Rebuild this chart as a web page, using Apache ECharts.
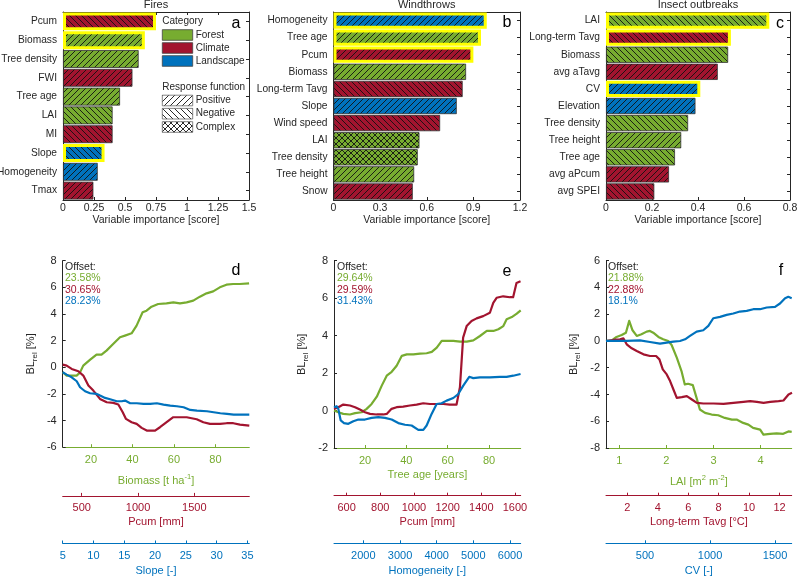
<!DOCTYPE html>
<html><head><meta charset="utf-8">
<script src="https://cdn.jsdelivr.net/npm/echarts@6/dist/echarts.min.js"></script>
<style>html,body{margin:0;padding:0;background:#fff}#c{width:798px;height:577px}</style>
</head><body><div id="c"></div><script>
// ---------- DATA ----------
const firesVars = ['Pcum','Biomass','Tree density','FWI','Tree age','LAI','MI','Slope','Homogeneity','Tmax'];
const firesImp  = [0.75,0.66,0.61,0.56,0.46,0.40,0.40,0.335,0.28,0.245];
const firesCat  = ['Climate','Forest','Forest','Climate','Forest','Forest','Climate','Landscape','Landscape','Climate'];
const firesResp = ['Negative','Positive','Positive','Positive','Positive','Negative','Negative','Negative','Positive','Positive'];
const firesTop  = [1,1,0,0,0,0,0,1,0,0];

const windVars = ['Homogeneity','Tree age','Pcum','Biomass','Long-term Tavg','Slope','Wind speed','LAI','Tree density','Tree height','Snow'];
const windImp  = [0.986,0.949,0.90,0.853,0.831,0.793,0.686,0.553,0.542,0.519,0.51];
const windCat  = ['Landscape','Forest','Climate','Forest','Climate','Landscape','Climate','Forest','Forest','Forest','Climate'];
const windResp = ['Positive','Positive','Positive','Positive','Negative','Positive','Negative','Complex','Complex','Positive','Positive'];
const windTop  = [1,1,1,0,0,0,0,0,0,0,0];

const insVars = ['LAI','Long-term Tavg','Biomass','avg aTavg','CV','Elevation','Tree density','Tree height','Tree age','avg aPcum','avg SPEI'];
const insImp  = [0.71,0.543,0.531,0.486,0.41,0.389,0.357,0.327,0.30,0.274,0.21];
const insCat  = ['Forest','Climate','Forest','Climate','Landscape','Landscape','Forest','Forest','Forest','Climate','Climate'];
const insResp = ['Negative','Negative','Negative','Positive','Positive','Positive','Negative','Positive','Negative','Positive','Negative'];
const insTop  = [1,1,0,0,1,0,0,0,0,0,0];

const panelTitles = ['Fires','Windthrows','Insect outbreaks'];
const impMax = [1.5,1.2,0.8];
const impStep = [0.25,0.3,0.2];

// panel d
const dBiomassX = [6.4,8.3,13.1,14.7,16.3,19.5,22.7,25.1,27.5,30.7,34.0,36.4,39.6,42.0,44.9,46.8,49.2,52.4,56.4,59.7,62.9,66.1,69.3,72.5,75.7,78.9,82.1,85.3,88.5,91.7,96.2];
const dBiomassY = [-0.375,-0.625,-0.625,-0.4,0.125,0.55,0.95,0.95,1.25,1.75,2.25,2.375,2.55,3.125,4.125,4.25,4.55,4.75,4.8,4.875,4.8,4.875,5.0,5.3,5.55,5.7,6.0,6.2,6.25,6.25,6.3];
const dPcumX = [331,366,411,470,514,559,603,662,722,781,825,864,893,943,988,1032,1077,1151,1195,1254,1313,1373,1432,1476,1521,1580,1639,1728,1787,1846,1905,1988];
const dPcumY = [0.2,0.125,-0.125,-0.3,-0.625,-1.375,-1.75,-2.375,-2.625,-2.675,-2.8,-3.375,-3.875,-4.125,-4.25,-4.55,-4.75,-4.75,-4.5,-4.125,-3.75,-3.75,-3.75,-3.825,-3.9,-4.125,-4.25,-4.25,-4.2,-4.2,-4.3,-4.375];
const dSlopeX = [5.0,5.65,6.46,7.28,7.82,8.63,9.44,10.53,11.07,11.88,12.7,13.78,14.59,15.13,15.95,17.03,18.12,19.2,20.29,21.37,22.46,23.54,24.63,25.71,26.8,28.43,29.51,30.6,31.68,32.76,33.85,35.3];
const dSlopeY = [-0.375,-0.55,-0.75,-1.05,-1.5,-1.8,-1.95,-2.0,-2.125,-2.3,-2.4,-2.55,-2.55,-2.5,-2.7,-2.7,-2.75,-2.75,-2.7,-2.8,-2.875,-2.925,-3.0,-3.2,-3.25,-3.3,-3.375,-3.45,-3.5,-3.55,-3.55,-3.55];
// panel e
const eAgeX = [5,7.1,9.5,12.7,15.2,18.4,20.8,23.2,25.7,28.1,30.5,32.9,35.3,37.8,40.2,43.4,46.6,49.8,52.3,54.7,57.1,59.5,62.7,66,69.2,72.4,75.6,78.9,82.1,84.5,86.9,88.5,91,93.4,95.3];
const eAgeY = [0,-0.09,-0.18,-0.21,-0.14,-0.09,0.09,0.35,0.74,1.33,1.86,2.07,2.39,2.92,3.0,3.0,3.04,3.06,3.13,3.36,3.72,3.72,3.72,3.68,3.68,3.75,3.98,4.25,4.25,4.34,4.51,4.87,4.99,5.17,5.35];
const ePcumX = [525,551,580,620,650,679,709,739,778,818,838,867,897,936,976,1016,1055,1095,1135,1174,1213,1253,1273,1292,1313,1342,1372,1411,1451,1471,1491,1530,1570,1589,1609,1633];
const ePcumY = [0.09,0.18,0.32,0.27,0.18,0.05,-0.09,-0.18,-0.21,-0.21,-0.18,0.09,0.18,0.21,0.27,0.32,0.39,0.35,0.35,0.35,0.32,0.32,1.24,3.89,4.51,4.78,4.92,5.04,5.22,5.75,6.02,6.1,6.05,6.05,6.81,6.9];
const eHomX = [1200,1273,1318,1383,1473,1591,1727,1864,2045,2227,2409,2590,2772,2954,3135,3317,3499,3635,3726,3862,3999,4135,4271,4453,4589,4725,4888,4997,5179,5451,5724,5906,6087,6287];
const eHomY = [0.18,0.23,0.09,-0.53,-0.67,-0.71,-0.57,-0.48,-0.48,-0.39,-0.35,-0.39,-0.48,-0.67,-0.76,-0.8,-1.03,-1.03,-0.8,-0.18,0.35,0.39,0.53,0.67,0.88,1.33,1.8,1.73,1.77,1.77,1.8,1.8,1.86,1.95];
// panel f
const fLaiX = [0.717,0.84,0.94,1.05,1.14,1.21,1.28,1.37,1.47,1.58,1.65,1.72,1.83,1.93,2.04,2.11,2.22,2.32,2.39,2.46,2.56,2.64,2.71,2.82,2.96,3.10,3.24,3.39,3.49,3.63,3.74,3.84,3.99,4.06,4.2,4.34,4.48,4.59,4.66];
const fLaiY = [0,0.05,0.3,0.45,0.62,1.5,0.8,0.375,0.5,0.7,0.75,0.62,0.3,0.125,0,-0.3,-1.25,-2.25,-3.25,-3.2,-3.3,-4.25,-5.125,-5.375,-5.5,-5.55,-5.75,-5.875,-5.875,-6.125,-6.25,-6.5,-6.625,-7.0,-6.94,-6.9,-6.94,-6.76,-6.8];
const fTavgX = [0.6,1.08,1.52,1.74,1.96,2.29,2.62,3.06,3.49,3.89,4.11,4.33,4.59,4.81,5.03,5.25,5.58,5.91,6.24,6.57,7.0,7.66,8.32,8.97,9.63,10.07,10.51,10.95,11.39,11.94,12.26,12.59,12.82];
const fTavgY = [0,0.075,0.125,0.2,-0.25,-0.55,-0.75,-1.0,-1.125,-1.125,-1.375,-2.125,-2.5,-3.0,-3.625,-4.25,-4.2,-4.125,-4.375,-4.625,-4.675,-4.675,-4.7,-4.625,-4.55,-4.5,-4.55,-4.625,-4.55,-4.5,-4.45,-4.0,-3.875];
const fCvX = [200,282,359,461,538,615,667,718,769,808,846,897,948,987,1025,1077,1128,1179,1230,1282,1333,1384,1436,1500,1538,1577,1602,1628];
const fCvY = [0,0,0,0.05,-0.075,-0.2,-0.125,-0.05,0,0.125,0.375,0.7,0.8,1.125,1.7,1.8,1.95,2.05,2.2,2.25,2.375,2.375,2.5,2.55,2.8,3.2,3.3,3.2];

// axis ranges & ticks (bottom panels)
const dYRange = [-6,8], eYRange = [-2,8], fYRange = [-8,6];
const dBiomassRange = [6.4,96.3], dBiomassTicks = [20,40,60,80];
const dPcumRange = [331,1988], dPcumTicks = [500,1000,1500];
const dSlopeRange = [5,35.3], dSlopeTicks = [5,10,15,20,25,30,35];
const eAgeRange = [5,95.3], eAgeTicks = [20,40,60,80];
const ePcumRange = [525,1634], ePcumTicks = [600,800,1000,1200,1400,1600];
const eHomRange = [1200,6291], eHomTicks = [2000,3000,4000,5000,6000];
const fLaiRange = [0.717,4.66], fLaiTicks = [1,2,3,4];
const fTavgRange = [0.6,12.8], fTavgTicks = [2,4,6,8,10,12];
const fCvRange = [200,1628], fCvTicks = [500,1000,1500];

const dOffsets = ['23.58%','30.65%','28.23%'];
const eOffsets = ['29.64%','29.59%','31.43%'];
const fOffsets = ['21.88%','22.88%','18.1%'];

// ---------- STYLE ----------
const FONT = '"Liberation Sans", Arial, Helvetica, sans-serif';
const TXT = '#262626';
const COL = {Forest:'#77AC30', Climate:'#A2142F', Landscape:'#0072BD'};
const LINE = {g:'#77AC30', r:'#A2142F', b:'#0072BD'};

const patCache = {};
function pattern(bg, resp){
  const key = bg+resp;
  if (patCache[key]) return patCache[key];
  const s = 6;
  const c = document.createElement('canvas');
  c.width = s; c.height = s;
  const g = c.getContext('2d');
  g.fillStyle = bg; g.fillRect(0,0,s,s);
  g.strokeStyle = '#111'; g.lineWidth = 0.9;
  const fwd = ()=>{ g.beginPath(); g.moveTo(-1,s+1); g.lineTo(s+1,-1); g.moveTo(-1,1); g.lineTo(1,-1); g.moveTo(s-1,s+1); g.lineTo(s+1,s-1); g.stroke(); };
  const back = ()=>{ g.beginPath(); g.moveTo(-1,-1); g.lineTo(s+1,s+1); g.moveTo(s-1,-1); g.lineTo(s+1,1); g.moveTo(-1,s-1); g.lineTo(1,s+1); g.stroke(); };
  if (resp==='Positive') fwd(); else if (resp==='Negative') back(); else { fwd(); back(); }
  const p = {image:c, repeat:'repeat'};
  patCache[key] = p;
  return p;
}

const topGrids = [
  {left:63, top:12, width:186, height:188},
  {left:333.5, top:12, width:186.5, height:188},
  {left:606, top:12, width:184, height:188}
];
const botGrids = [
  {left:62.7, top:260.7, width:186.6, height:186.5},
  {left:334, top:260.7, width:186.7, height:187.3},
  {left:606, top:260.7, width:185.7, height:187.3}
];

const grid = topGrids.concat(botGrids).map(g=>Object.assign({containLabel:false, outerBoundsMode:'none'}, g));
const xAxis = [], yAxis = [], series = [];
const plain = v => String(v);

const topSets = [
  [firesVars, firesImp, firesCat, firesResp, firesTop],
  [windVars, windImp, windCat, windResp, windTop],
  [insVars, insImp, insCat, insResp, insTop]
];
topSets.forEach((set, i)=>{
  const [vars, imp, cat, resp, top] = set;
  const axLine = {show:true, onZero:false, lineStyle:{color:TXT, width:1}};
  xAxis.push({type:'value', gridIndex:i, position:'bottom', min:0, max:impMax[i], interval:impStep[i],
    name:'Variable importance [score]', nameLocation:'middle', nameGap:15,
    nameTextStyle:{color:TXT, fontSize:10.5, fontFamily:FONT},
    axisLine:axLine, axisTick:{show:true, inside:true, length:3, lineStyle:{color:TXT}},
    axisLabel:{color:TXT, fontSize:10.5, fontFamily:FONT, margin:3, formatter:plain}, splitLine:{show:false}});
  xAxis.push({type:'value', gridIndex:i, position:'top', min:0, max:impMax[i], interval:impStep[i],
    axisLine:axLine, axisTick:{show:true, inside:true, length:3, lineStyle:{color:TXT}},
    axisLabel:{show:false}, splitLine:{show:false}});
  yAxis.push({type:'category', gridIndex:i, position:'left', inverse:true, data:vars,
    axisLine:axLine, axisTick:{show:true, inside:true, length:3, alignWithLabel:true, lineStyle:{color:TXT}},
    axisLabel:{color:TXT, fontSize:10.2, fontFamily:FONT, margin:6}, splitLine:{show:false}});
  yAxis.push({type:'category', gridIndex:i, position:'right', inverse:true, data:vars,
    axisLine:axLine, axisTick:{show:true, inside:true, length:3, alignWithLabel:true, lineStyle:{color:TXT}},
    axisLabel:{show:false}, splitLine:{show:false}});
  series.push({type:'bar', xAxisIndex:2*i, yAxisIndex:2*i, barCategoryGap:'5%', clip:false, silent:true,
    data: imp.map((v,k)=>({value:v, itemStyle:{
      color: pattern(COL[cat[k]], resp[k]),
      borderColor: top[k] ? '#FFFF00' : '#333',
      borderWidth: top[k] ? 3 : 0.8
    }}))
  });
});

const bottomSets = [
  {y:dYRange, axes:[
    {range:dBiomassRange, ticks:dBiomassTicks, color:LINE.g, name:'Biomass [t ha{sup|-1}]', off:0, gap:26, x:dBiomassX, yv:dBiomassY},
    {range:dPcumRange, ticks:dPcumTicks, color:LINE.r, name:'Pcum [mm]', off:48.7, gap:21, x:dPcumX, yv:dPcumY},
    {range:dSlopeRange, ticks:dSlopeTicks, color:LINE.b, name:'Slope [-]', off:96.3, gap:22, x:dSlopeX, yv:dSlopeY}]},
  {y:eYRange, axes:[
    {range:eAgeRange, ticks:eAgeTicks, color:LINE.g, name:'Tree age [years]', off:0, gap:21, x:eAgeX, yv:eAgeY},
    {range:ePcumRange, ticks:ePcumTicks, color:LINE.r, name:'Pcum [mm]', off:47.7, gap:21, x:ePcumX, yv:ePcumY},
    {range:eHomRange, ticks:eHomTicks, color:LINE.b, name:'Homogeneity [-]', off:95.3, gap:22, x:eHomX, yv:eHomY}]},
  {y:fYRange, axes:[
    {range:fLaiRange, ticks:fLaiTicks, color:LINE.g, name:'LAI [m{sup|2} m{sup|-2}]', off:0, gap:26, x:fLaiX, yv:fLaiY},
    {range:fTavgRange, ticks:fTavgTicks, color:LINE.r, name:'Long-term Tavg [°C]', off:47.7, gap:21, x:fTavgX, yv:fTavgY},
    {range:fCvRange, ticks:fCvTicks, color:LINE.b, name:'CV [-]', off:95.3, gap:22, x:fCvX, yv:fCvY}]}
];
bottomSets.forEach((set, j)=>{
  const gi = 3 + j;
  const yi = yAxis.length;
  yAxis.push({type:'value', gridIndex:gi, min:set.y[0], max:set.y[1], interval:2,
    name:'{n|BL}{s|rel}{n| [%]}', nameLocation:'middle', nameGap:24,
    nameTextStyle:{color:TXT, fontFamily:FONT, rich:{n:{fontSize:11, color:TXT, fontFamily:FONT}, s:{fontSize:8, color:TXT, fontFamily:FONT, padding:[8,0,0,0]}}},
    axisLine:{show:true, onZero:false, lineStyle:{color:TXT}},
    axisTick:{show:true, inside:true, length:3, lineStyle:{color:TXT}},
    axisLabel:{color:TXT, fontSize:11, fontFamily:FONT, margin:6}, splitLine:{show:false}});
  set.axes.forEach(a=>{
    const xi = xAxis.length;
    xAxis.push({type:'value', gridIndex:gi, position:'bottom', offset:a.off, min:a.range[0], max:a.range[1],
      name:a.name, nameLocation:'middle', nameGap:a.gap,
      nameTextStyle:{color:a.color, fontSize:11, fontFamily:FONT, rich:{sup:{fontSize:7.5, color:a.color, fontFamily:FONT, padding:[0,0,8,0]}}},
      axisLine:{show:true, onZero:false, lineStyle:{color:a.color, width:1}},
      axisTick:{show:true, inside:true, length:3, lineStyle:{color:a.color}, customValues:a.ticks},
      axisLabel:{color:a.color, fontSize:11, fontFamily:FONT, margin:7, customValues:a.ticks, formatter:plain},
      splitLine:{show:false}});
    series.push({type:'line', xAxisIndex:xi, yAxisIndex:yi, symbol:'none', silent:true,
      data:a.x.map((v,k)=>[v, a.yv[k]]),
      lineStyle:{color:a.color, width:2.2, join:'round'}});
  });
});

// ---------- ANNOTATIONS ----------
const graphic = [];
const tx = (x,y,text,opt)=>graphic.push(Object.assign({type:'text', x, y, silent:true,
  style:Object.assign({text, fill:TXT, font:'11px '+FONT, textAlign:'left', textVerticalAlign:'middle'}, opt||{})}));
[156, 426.7, 698].forEach((x,i)=>tx(x, 5, panelTitles[i], {textAlign:'center', font:'11px '+FONT}));
[['a',236,24],['b',507,23],['c',780,24],['d',236,271],['e',507,272],['f',781,271]].forEach(l=>tx(l[1], l[2], l[0], {textAlign:'center', font:'16px '+FONT, fill:'#000'}));
// legend
const LF = '10px '+FONT;
tx(162.3, 21, 'Category', {font:LF});
[['Forest',COL.Forest,35],['Climate',COL.Climate,48],['Landscape',COL.Landscape,61]].forEach(r=>{
  graphic.push({type:'rect', shape:{x:162.3, y:r[2]-5.3, width:30.4, height:10.6}, silent:true, style:{fill:r[1], stroke:'#444', lineWidth:0.8}});
  tx(195.7, r[2], r[0], {font:LF});
});
tx(162.3, 87, 'Response function', {font:LF});
[['Positive',100.5],['Negative',113.7],['Complex',127]].forEach(r=>{
  graphic.push({type:'rect', shape:{x:162.3, y:r[1]-5.3, width:30.4, height:10.6}, silent:true, style:{fill:pattern('#fff', r[0]), stroke:'#666', lineWidth:0.8}});
  tx(195.7, r[1], r[0], {font:LF});
});
// offsets
const offX = [65, 337, 608];
[dOffsets, eOffsets, fOffsets].forEach((o,i)=>{
  tx(offX[i], 267, 'Offset:', {font:'10.5px '+FONT});
  tx(offX[i], 278.5, o[0], {fill:LINE.g, font:'10.5px '+FONT});
  tx(offX[i], 290, o[1], {fill:LINE.r, font:'10.5px '+FONT});
  tx(offX[i], 301.5, o[2], {fill:LINE.b, font:'10.5px '+FONT});
});

const chart = echarts.init(document.getElementById('c'), null, {renderer:'canvas'});
chart.setOption({animation:false, backgroundColor:'#fff', grid, xAxis, yAxis, series, graphic});
</script></body></html>
